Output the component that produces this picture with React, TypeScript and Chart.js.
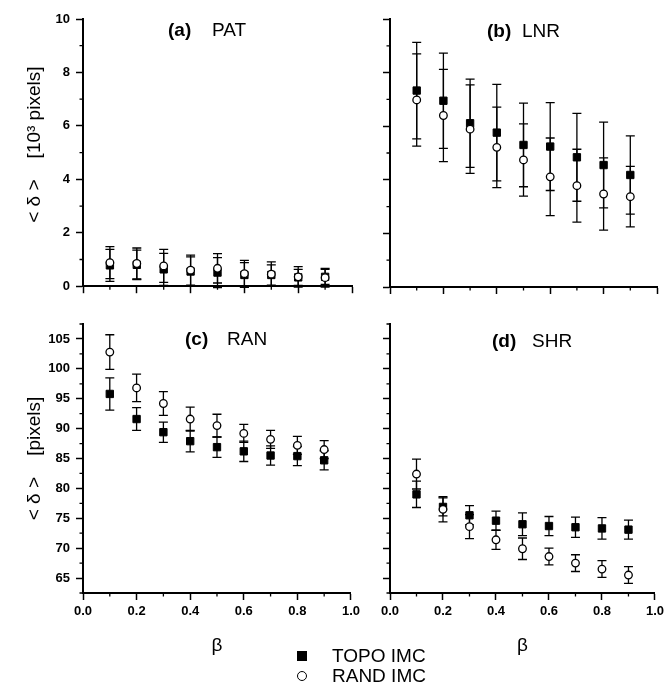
import React, { useEffect, useRef } from 'react';
import { Chart, registerables } from 'chart.js';

Chart.register(...registerables);

// ---------- data ----------
const BETA = [0.1, 0.2, 0.3, 0.4, 0.5, 0.6, 0.7, 0.8, 0.9];

const PAT_TOPO = [0.78, 0.8, 0.63, 0.55, 0.51, 0.42, 0.42, 0.33, 0.35];
const PAT_TOPO_ERR = [0.6, 0.55, 0.6, 0.55, 0.56, 0.46, 0.38, 0.3, 0.28];
const PAT_RAND = [0.88, 0.85, 0.76, 0.6, 0.67, 0.47, 0.45, 0.35, 0.32];
const PAT_RAND_ERR = [0.6, 0.58, 0.62, 0.56, 0.55, 0.5, 0.46, 0.38, 0.35];

const LNR_TOPO = [7.33, 6.95, 6.11, 5.76, 5.3, 5.24, 4.84, 4.55, 4.18];
const LNR_TOPO_ERR = [1.8, 1.78, 1.65, 1.8, 1.56, 1.64, 1.64, 1.6, 1.46];
const LNR_RAND = [6.98, 6.4, 5.89, 5.21, 4.74, 4.11, 3.78, 3.47, 3.37];
const LNR_RAND_ERR = [1.72, 1.72, 1.65, 1.5, 1.35, 1.45, 1.36, 1.35, 1.13];

const RAN_TOPO = [95.8, 91.6, 89.4, 87.9, 86.9, 86.2, 85.5, 85.4, 84.7];
const RAN_TOPO_ERR = [2.7, 1.9, 1.7, 1.8, 1.7, 1.7, 1.6, 1.6, 1.6];
const RAN_RAND = [102.8, 96.8, 94.2, 91.6, 90.5, 89.2, 88.2, 87.2, 86.5];
const RAN_RAND_ERR = [2.9, 2.3, 2.0, 2.0, 1.9, 1.5, 1.5, 1.5, 1.5];

const SHR_TOPO = [79.0, 76.9, 75.5, 74.6, 74.0, 73.7, 73.5, 73.3, 73.1];
const SHR_TOPO_ERR = [2.2, 1.5, 1.6, 1.6, 1.9, 1.6, 1.7, 1.8, 1.6];
const SHR_RAND = [82.4, 76.5, 73.6, 71.4, 69.9, 68.6, 67.5, 66.5, 65.5];
const SHR_RAND_ERR = [2.5, 2.1, 2.0, 1.6, 1.8, 1.4, 1.4, 1.4, 1.4];

const SERIES_NAMES = ['TOPO IMC', 'RAND IMC'];
const X_TITLE = 'β';
const Y_TITLE_TOP = '   < δ >    [10³ pixels]';
const Y_TITLE_BOTTOM = '< δ >    [pixels]';

const FONT = "'Liberation Sans', Arial, Helvetica, sans-serif";

type PanelCfg = {
  id: string;
  label: string;
  name: string;
  topo: number[];
  topoErr: number[];
  rand: number[];
  randErr: number[];
  left: number;
  top: number;
  width: number;
  height: number;
  padTop: number;
  padRight: number;
  yAxisWidth: number;
  xAxisHeight: number;
  yMin: number;
  yMax: number;
  yStep: number;
  yMajor: number;
  showYLabels: boolean;
  showXLabels: boolean;
  yTitle: string | null;
  xTitle: string | null;
  labelX: number;
  nameX: number;
  titleY: number;
};

const PANELS: PanelCfg[] = [
  {
    id: 'a', label: '(a)', name: 'PAT',
    topo: PAT_TOPO, topoErr: PAT_TOPO_ERR, rand: PAT_RAND, randErr: PAT_RAND_ERR,
    left: 0, top: 0, width: 364, height: 300, padTop: 19, padRight: 12,
    yAxisWidth: 83, xAxisHeight: 13,
    yMin: 0, yMax: 10, yStep: 1, yMajor: 2,
    showYLabels: true, showXLabels: false, yTitle: Y_TITLE_TOP, xTitle: null,
    labelX: 168, nameX: 212, titleY: 31,
  },
  {
    id: 'b', label: '(b)', name: 'LNR',
    topo: LNR_TOPO, topoErr: LNR_TOPO_ERR, rand: LNR_RAND, randErr: LNR_RAND_ERR,
    left: 340, top: 0, width: 328, height: 300, padTop: 19, padRight: 11,
    yAxisWidth: 50, xAxisHeight: 13,
    yMin: 0, yMax: 10, yStep: 1, yMajor: 2,
    showYLabels: false, showXLabels: false, yTitle: null, xTitle: null,
    labelX: 147, nameX: 182, titleY: 32,
  },
  {
    id: 'c', label: '(c)', name: 'RAN',
    topo: RAN_TOPO, topoErr: RAN_TOPO_ERR, rand: RAN_RAND, randErr: RAN_RAND_ERR,
    left: 0, top: 300, width: 364, height: 386, padTop: 24, padRight: 12,
    yAxisWidth: 83, xAxisHeight: 93,
    yMin: 62.5, yMax: 107.5, yStep: 2.5, yMajor: 5,
    showYLabels: true, showXLabels: true, yTitle: Y_TITLE_BOTTOM, xTitle: X_TITLE,
    labelX: 185, nameX: 227, titleY: 40,
  },
  {
    id: 'd', label: '(d)', name: 'SHR',
    topo: SHR_TOPO, topoErr: SHR_TOPO_ERR, rand: SHR_RAND, randErr: SHR_RAND_ERR,
    left: 340, top: 300, width: 328, height: 386, padTop: 24, padRight: 11,
    yAxisWidth: 50, xAxisHeight: 93,
    yMin: 62.5, yMax: 107.5, yStep: 2.5, yMajor: 5,
    showYLabels: false, showXLabels: true, yTitle: null, xTitle: X_TITLE,
    labelX: 152, nameX: 192, titleY: 42,
  },
];

const X_MAJOR = 0.2;

function isMajor(v: number, m: number) {
  return Math.abs(v / m - Math.round(v / m)) < 1e-6;
}

function Panel({ cfg }: { cfg: PanelCfg }) {
  const ref = useRef<HTMLCanvasElement | null>(null);

  useEffect(() => {
    if (!ref.current) return;

    const errorBars = {
      id: 'errorBars',
      beforeDatasetsDraw(chart: any) {
        const ctx = chart.ctx;
        const xs = chart.scales.x;
        const ys = chart.scales.y;
        ctx.save();
        ctx.strokeStyle = '#000';
        ctx.lineWidth = 1.3;
        chart.data.datasets.forEach((ds: any) => {
          ds.data.forEach((p: any, i: number) => {
            const e = ds.errors[i];
            const px = xs.getPixelForValue(p.x);
            const t = ys.getPixelForValue(p.y + e);
            const b = ys.getPixelForValue(p.y - e);
            ctx.beginPath();
            ctx.moveTo(px, t);
            ctx.lineTo(px, b);
            ctx.moveTo(px - 4.5, t);
            ctx.lineTo(px + 4.5, t);
            ctx.moveTo(px - 4.5, b);
            ctx.lineTo(px + 4.5, b);
            ctx.stroke();
          });
        });
        ctx.restore();
      },
    };

    const minorTicks = {
      id: 'minorTicks',
      afterDraw(chart: any) {
        const { ctx, chartArea } = chart;
        const xs = chart.scales.x;
        const ys = chart.scales.y;
        ctx.save();
        ctx.strokeStyle = '#000';
        ctx.lineWidth = 1.3;
        ctx.beginPath();
        xs.ticks.forEach((t: any) => {
          if (!isMajor(t.value, X_MAJOR)) {
            const px = xs.getPixelForValue(t.value);
            ctx.moveTo(px, chartArea.bottom);
            ctx.lineTo(px, chartArea.bottom + 3.5);
          }
        });
        ys.ticks.forEach((t: any) => {
          if (!isMajor(t.value, cfg.yMajor)) {
            const py = ys.getPixelForValue(t.value);
            ctx.moveTo(chartArea.left, py);
            ctx.lineTo(chartArea.left - 3.5, py);
          }
        });
        ctx.stroke();
        // panel title
        ctx.fillStyle = '#000';
        ctx.textBaseline = 'middle';
        ctx.textAlign = 'left';
        ctx.font = `bold 19px ${FONT}`;
        ctx.fillText(cfg.label, cfg.labelX, cfg.titleY);
        ctx.font = `19px ${FONT}`;
        ctx.fillText(cfg.name, cfg.nameX, cfg.titleY);
        ctx.restore();
      },
    };

    const tickFont = { family: FONT, size: 13, weight: 'bold' as const };

    const chart = new Chart(ref.current, {
      type: 'scatter',
      data: {
        datasets: [
          {
            label: SERIES_NAMES[0],
            data: BETA.map((x, i) => ({ x, y: cfg.topo[i] })),
            errors: cfg.topoErr,
            pointStyle: 'rect',
            pointRadius: 5.2,
            backgroundColor: '#000',
            borderColor: '#000',
            borderWidth: 1,
            order: 1,
          } as any,
          {
            label: SERIES_NAMES[1],
            data: BETA.map((x, i) => ({ x, y: cfg.rand[i] })),
            errors: cfg.randErr,
            pointStyle: 'circle',
            pointRadius: 3.8,
            backgroundColor: '#fff',
            borderColor: '#000',
            borderWidth: 1.3,
            order: 0,
          } as any,
        ],
      },
      options: {
        responsive: false,
        animation: false,
        devicePixelRatio: 1,
        events: [],
        layout: { padding: { top: cfg.padTop, right: cfg.padRight, bottom: 0, left: 0 } },
        plugins: {
          legend: { display: false },
          tooltip: { enabled: false },
          title: { display: false },
        },
        scales: {
          x: {
            type: 'linear',
            min: 0,
            max: 1,
            afterFit: (s: any) => {
              s.height = cfg.xAxisHeight;
            },
            border: { display: true, color: '#000', width: 2 },
            grid: {
              drawOnChartArea: false,
              drawTicks: true,
              tickLength: 7,
              tickWidth: 1.5,
              tickColor: (c: any) =>
                c.tick && isMajor(c.tick.value, X_MAJOR) ? '#000' : 'rgba(0,0,0,0)',
            },
            ticks: {
              display: cfg.showXLabels,
              stepSize: 0.1,
              autoSkip: false,
              maxRotation: 0,
              padding: 4,
              color: '#000',
              font: tickFont,
              callback: (v: any) => (isMajor(Number(v), X_MAJOR) ? Number(v).toFixed(1) : ''),
            },
            title: {
              display: !!cfg.xTitle,
              text: cfg.xTitle || '',
              color: '#000',
              font: { family: FONT, size: 19 },
              padding: { top: 0, bottom: 28.6 },
            },
          },
          y: {
            type: 'linear',
            min: cfg.yMin,
            max: cfg.yMax,
            afterFit: (s: any) => {
              s.width = cfg.yAxisWidth;
            },
            border: { display: true, color: '#000', width: 2 },
            grid: {
              drawOnChartArea: false,
              drawTicks: true,
              tickLength: 7,
              tickWidth: 1.5,
              tickColor: (c: any) =>
                c.tick && isMajor(c.tick.value, cfg.yMajor) ? '#000' : 'rgba(0,0,0,0)',
            },
            ticks: {
              display: cfg.showYLabels,
              stepSize: cfg.yStep,
              autoSkip: false,
              padding: 6,
              color: '#000',
              font: tickFont,
              callback: (v: any) => (isMajor(Number(v), cfg.yMajor) ? String(Number(v)) : ''),
            },
            title: {
              display: !!cfg.yTitle,
              text: cfg.yTitle || '',
              color: '#000',
              font: { family: FONT, size: 19 },
              padding: { top: 23.6, bottom: 0 },
            },
          },
        },
      } as any,
      plugins: [errorBars, minorTicks],
    });

    return () => chart.destroy();
  }, [cfg]);

  return (
    <canvas
      ref={ref}
      width={cfg.width}
      height={cfg.height}
      style={{
        position: 'absolute',
        left: cfg.left,
        top: cfg.top,
        width: cfg.width,
        height: cfg.height,
      }}
    />
  );
}

function Legend() {
  const text: React.CSSProperties = {
    position: 'absolute',
    left: 332,
    font: `19px ${FONT}`,
    lineHeight: '24px',
    color: '#000',
    whiteSpace: 'nowrap',
  };
  return (
    <>
      <div
        style={{ position: 'absolute', left: 297, top: 651, width: 10, height: 10, background: '#000' }}
      />
      <div style={{ ...text, top: 644 }}>{SERIES_NAMES[0]}</div>
      <div
        style={{
          position: 'absolute',
          left: 297,
          top: 671,
          width: 10,
          height: 10,
          boxSizing: 'border-box',
          border: '1.4px solid #000',
          borderRadius: '50%',
          background: '#fff',
        }}
      />
      <div style={{ ...text, top: 664 }}>{SERIES_NAMES[1]}</div>
    </>
  );
}

export default function App() {
  return (
    <div
      style={{
        position: 'absolute',
        left: 0,
        top: 0,
        width: 668,
        height: 686,
        background: '#fff',
        overflow: 'hidden',
      }}
    >
      {PANELS.map((p) => (
        <Panel key={p.id} cfg={p} />
      ))}
      <Legend />
    </div>
  );
}
